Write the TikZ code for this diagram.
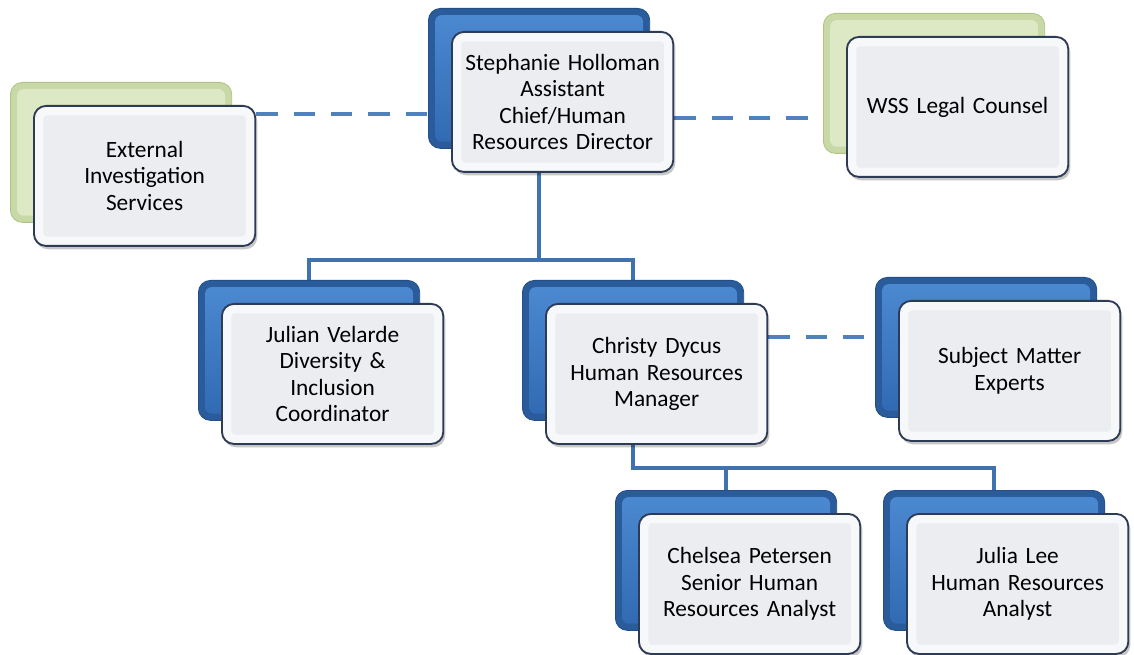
\documentclass[tikz,border=0pt]{standalone}
\usepackage{fontspec}
\setmainfont{Carlito}
\usetikzlibrary{shadows,calc}
\pgfdeclarelayer{bg}
\pgfsetlayers{bg,main}
\definecolor{blueOuter}{HTML}{2A5B9A}
\definecolor{blueEdge}{HTML}{234F88}
\definecolor{blueTop}{HTML}{4C8AD2}
\definecolor{blueBot}{HTML}{3069B2}
\definecolor{greenOuter}{HTML}{C8D8A6}
\definecolor{greenEdge}{HTML}{AFC484}
\definecolor{greenInner}{HTML}{DDE8C4}
\definecolor{frontEdge}{HTML}{2E3B55}
\definecolor{frontRim}{HTML}{F7F8FA}
\definecolor{frontInner}{HTML}{EBEDF1}
\definecolor{connCol}{HTML}{3F72AF}
\definecolor{dashCol}{HTML}{4F81BD}
\begin{document}
\begin{tikzpicture}[x=0.75pt,y=-0.75pt,
  backblue/.style={anchor=north west, minimum width=166pt, minimum height=105pt,
    rounded corners=9pt, draw=blueEdge, line width=0.6pt, fill=blueOuter, inner sep=0pt,
    path picture={\shade[top color=blueTop, bottom color=blueBot, rounded corners=5pt]
      ([shift={(5pt,-5pt)}]path picture bounding box.north west) rectangle
      ([shift={(-5pt,5pt)}]path picture bounding box.south east);}},
  backgreen/.style={anchor=north west, minimum width=166pt, minimum height=105pt,
    rounded corners=9pt, draw=greenEdge, line width=0.6pt, fill=greenOuter, inner sep=0pt,
    path picture={\fill[greenInner, rounded corners=5pt]
      ([shift={(5pt,-5pt)}]path picture bounding box.north west) rectangle
      ([shift={(-5pt,5pt)}]path picture bounding box.south east);}},
  frontbox/.style={anchor=north west, minimum width=166pt, minimum height=105pt,
    rounded corners=9pt, draw=frontEdge, line width=1.4pt, fill=frontRim,
    align=center, text width=158pt, inner sep=3pt,
    font=\fontsize{17.5}{19.8}\selectfont,
    drop shadow={shadow xshift=1.5pt, shadow yshift=-2.5pt, fill=black, opacity=0.22},
    path picture={\fill[frontInner, rounded corners=3pt]
      ([shift={(7pt,-7pt)}]path picture bounding box.north west) rectangle
      ([shift={(-7pt,7pt)}]path picture bounding box.south east);}},
  conn/.style={draw=connCol, line width=2.4pt},
  dashline/.style={draw=dashCol, line width=3.6pt, dash pattern=on 16pt off 12pt}
]
\useasboundingbox (0,0) rectangle (1134,655);

% helper coordinates
\coordinate (yA) at (0,114);
\coordinate (yB) at (0,118);
\coordinate (yC) at (0,337);
\coordinate (j1) at (0,260);
\coordinate (j2) at (0,468);

% boxes
\node[backblue] (bTop) at (428,8) {};
\node[frontbox] (fTop) at (451,31) {Stephanie Holloman\\Assistant\\Chief/Human\\Resources Director};

\node[backgreen] (bExt) at (10,82) {};
\node[frontbox] (fExt) at (33,105) {External\\Investigation\\Services};

\node[backgreen] (bWSS) at (823,13) {};
\node[frontbox] (fWSS) at (846,36) {WSS Legal Counsel};

\node[backblue] (bJul) at (198,280) {};
\node[frontbox] (fJul) at (221,303) {Julian Velarde\\Diversity \&\\Inclusion\\Coordinator};

\node[backblue] (bChr) at (522,280) {};
\node[frontbox] (fChr) at (545,303) {Christy Dycus\\Human Resources\\Manager};

\node[backblue] (bSME) at (875,277) {};
\node[frontbox] (fSME) at (898,300) {Subject Matter\\Experts};

\node[backblue] (bChe) at (615,490) {};
\node[frontbox] (fChe) at (638,513) {Chelsea Petersen\\Senior Human\\Resources Analyst};

\node[backblue] (bJla) at (883,490) {};
\node[frontbox] (fJla) at (906,513) {Julia Lee\\Human Resources\\Analyst};

% connectors
\begin{pgfonlayer}{bg}
\draw[dashline] (fExt.east |- yA) -- (bTop.west |- yA);
\draw[dashline] (fTop.east |- yB) -- (bWSS.west |- yB);
\draw[dashline] (fChr.east |- yC) -- (bSME.west |- yC);
\draw[conn] (bTop.south) -- (bTop.south |- j1) -| (bJul.north);
\draw[conn] (bTop.south |- j1) -| (bChr.north);
\draw[conn] (bChr.south) -- (bChr.south |- j2) -| (bChe.north);
\draw[conn] (bChr.south |- j2) -| (bJla.north);
\end{pgfonlayer}
\end{tikzpicture}
\end{document}
